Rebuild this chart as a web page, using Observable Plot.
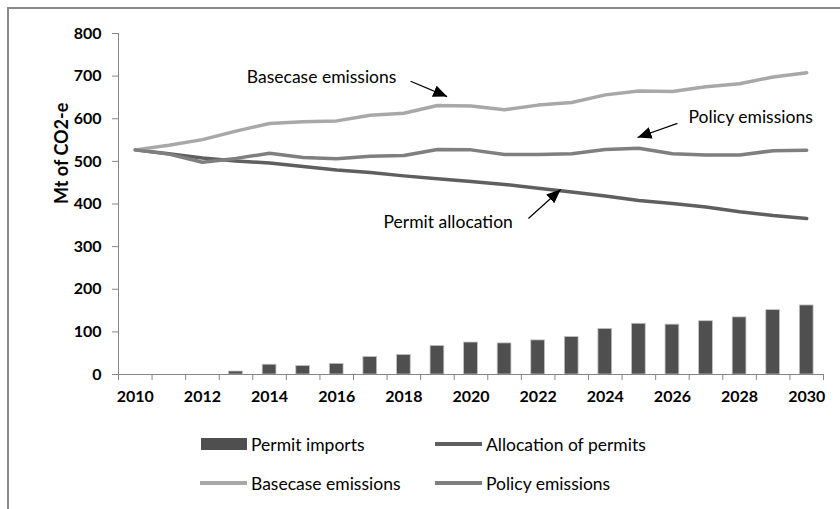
<!DOCTYPE html>
<html>
<head>
<meta charset="utf-8">
<script src="https://cdn.jsdelivr.net/npm/d3@7"></script>
<script src="https://cdn.jsdelivr.net/npm/@observablehq/plot@0.6"></script>
<style>
  html, body { margin: 0; padding: 0; background: #fff; overflow: hidden; }
  #wrap { position: relative; width: 840px; height: 509px; overflow: hidden; font-family: Lato, "Open Sans", sans-serif; }
  #frame { position: absolute; left: 7px; top: 7px; width: 1000px; height: 1000px; border-left: 2px solid #8a8a8a; border-top: 2px solid #8a8a8a; box-sizing: border-box; }
  #chart { position: absolute; left: 0; top: 0; }
  .leg { position: absolute; font-size: 17.5px; color: #000; display: flex; align-items: center; white-space: nowrap; }
  .sw { display: inline-block; margin-right: 4px; }
</style>
</head>
<body>
<div id="wrap">
  <div id="frame"></div>
  <div id="chart"></div>
</div>
<script>
const years = [2010, 2011, 2012, 2013, 2014, 2015, 2016, 2017, 2018, 2019, 2020,
               2021, 2022, 2023, 2024, 2025, 2026, 2027, 2028, 2029, 2030];
const permitImports = [0, 0, 0, 7, 23, 20, 25, 41, 46, 67, 75, 73, 80, 88, 107, 119, 117, 125, 134, 151, 162];
const allocation = [527, 518, 508, 501, 496, 488, 480, 474, 466, 459, 453, 446, 437, 428, 419, 408, 401, 393, 382, 373, 366];
const basecase = [527, 538, 551, 571, 589, 593, 595, 608, 613, 631, 630, 621, 632, 638, 656, 665, 664, 675, 682, 698, 708];
const policy = [527, 517, 498, 507, 519, 509, 506, 512, 514, 528, 527, 516, 516, 518, 528, 531, 518, 515, 515, 525, 526];
const yTicks = [0, 100, 200, 300, 400, 500, 600, 700, 800];
const xLabelYears = [2010, 2012, 2014, 2016, 2018, 2020, 2022, 2024, 2026, 2028, 2030];

const seriesNames = ["Permit imports", "Allocation of permits", "Basecase emissions", "Policy emissions"];
const seriesColors = ["#4f4f4f", "#5f5f5f", "#a8a8a8", "#7f7f7f"];

// annotations (data units)
const notes = [
  {text: "Basecase emissions", x: 2015.55, y: 697},
  {text: "Policy emissions", x: 2028.33, y: 603},
  {text: "Permit allocation", x: 2019.32, y: 357}
];
const arrows = [
  {x1: 2018.2, y1: 688, x2: 2019.29, y2: 652},
  {x1: 2026.15, y1: 589, x2: 2024.96, y2: 556},
  {x1: 2021.71, y1: 366, x2: 2022.67, y2: 434}
];

const first = years[0], last = years[years.length - 1];
const boundaries = [first - 0.5, ...years.map(y => y + 0.5)];
const bars = years.map((y, i) => ({year: y, v: permitImports[i]}));
const mk = arr => years.map((y, i) => ({year: y, v: arr[i]}));

function triangleMarker(color) {
  const m = d3.create("svg:marker")
    .attr("viewBox", "-14 -6 14 12")
    .attr("markerWidth", 14)
    .attr("markerHeight", 12)
    .attr("markerUnits", "userSpaceOnUse")
    .attr("orient", "auto")
    .attr("refX", 0)
    .attr("refY", 0)
    .attr("fill", color)
    .attr("stroke", "none");
  m.append("path").attr("d", "M-14,-6L0,0L-14,6Z");
  return m.node();
}

const axisColor = "#868686";

const chart = Plot.plot({
  width: 840,
  height: 420,
  marginLeft: 118,
  marginRight: 17,
  marginTop: 33,
  marginBottom: 46,
  style: {fontFamily: "Lato, 'Open Sans', sans-serif", fontSize: "16px", color: "#000", background: "transparent"},
  x: {domain: [first - 0.5, last + 0.5]},
  y: {domain: [0, 800]},
  marks: [
    Plot.rectY(bars, {x1: d => d.year - 0.205, x2: d => d.year + 0.205, y1: 0, y2: "v", fill: seriesColors[0], stroke: "#c4c4c4", strokeWidth: 0.8}),
    Plot.ruleX([first - 0.5], {stroke: axisColor, strokeWidth: 1}),
    Plot.ruleY([0], {stroke: axisColor, strokeWidth: 1}),
    Plot.axisY({ticks: yTicks, tickSize: 6, tickPadding: 11, stroke: axisColor, fontWeight: "bold", fontSize: 16, tickFormat: d => d, label: null}),
    Plot.axisX({ticks: boundaries, tickSize: 6, stroke: axisColor, tickFormat: () => "", label: null}),
    Plot.axisX({ticks: xLabelYears, tickSize: 0, tickPadding: 16, fontWeight: "bold", fontSize: 16, tickFormat: d => String(d), label: null}),
    Plot.text(["Mt of CO2-e"], {frameAnchor: "left", rotate: -90, dx: -56, fontWeight: "bold", fontSize: 18, fill: "#000"}),
    Plot.line(mk(allocation), {x: "year", y: "v", stroke: seriesColors[1], strokeWidth: 3.5}),
    Plot.line(mk(basecase), {x: "year", y: "v", stroke: seriesColors[2], strokeWidth: 3.5}),
    Plot.line(mk(policy), {x: "year", y: "v", stroke: seriesColors[3], strokeWidth: 3.5}),
    Plot.text(notes, {x: "x", y: "y", text: "text", fontSize: 17.5, fill: "#000", textAnchor: "middle"}),
    Plot.link(arrows, {x1: "x1", y1: "y1", x2: "x2", y2: "y2", stroke: "#000", strokeWidth: 1.2, markerEnd: triangleMarker})
  ]
});
document.getElementById("chart").appendChild(chart);

// legend below the plot
const wrap = document.getElementById("wrap");
const legendPos = [
  {left: 201, top: 433},
  {left: 435, top: 433},
  {left: 200, top: 472},
  {left: 435, top: 472}
];
seriesNames.forEach((name, i) => {
  const item = document.createElement("div");
  item.className = "leg";
  item.style.left = legendPos[i].left + "px";
  item.style.top = legendPos[i].top + "px";
  item.style.height = "22px";
  const sw = document.createElement("span");
  sw.className = "sw";
  if (i === 0) {
    sw.style.width = "46px"; sw.style.height = "12px"; sw.style.background = seriesColors[i];
  } else {
    sw.style.width = "47px"; sw.style.height = "3.5px"; sw.style.background = seriesColors[i];
  }
  item.appendChild(sw);
  const t = document.createElement("span");
  t.textContent = name;
  item.appendChild(t);
  wrap.appendChild(item);
});
</script>
</body>
</html>
